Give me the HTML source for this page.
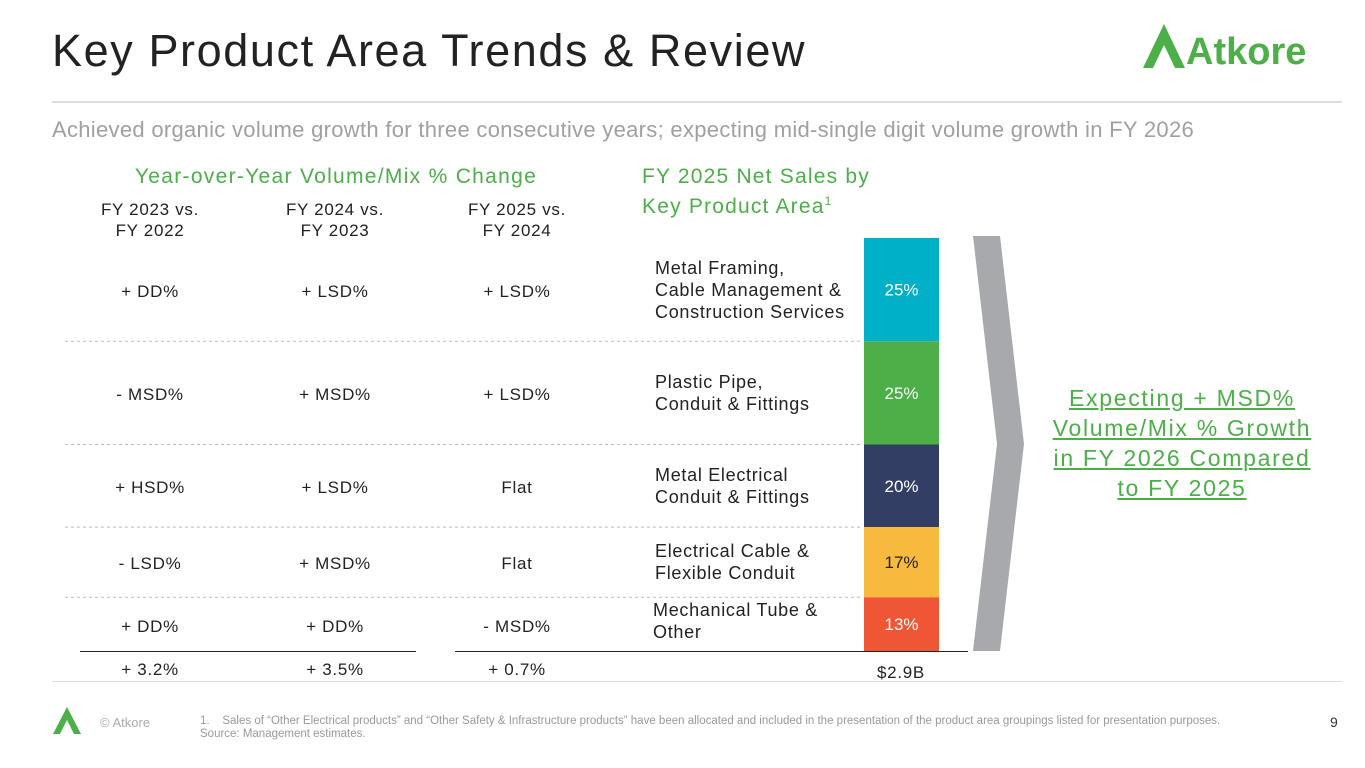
<!DOCTYPE html>
<html><head><meta charset="utf-8"><style>
body{margin:0;width:1365px;height:768px;background:#fff;position:relative;overflow:hidden;font-family:"Liberation Sans",sans-serif;}
.a{position:absolute;white-space:nowrap;}
.c{text-align:center;transform:translateX(-50%);}
.t{font-size:17px;letter-spacing:0.7px;color:#222;}
.lbl{font-size:18px;letter-spacing:0.7px;color:#222;line-height:22px;}
</style></head><body>
<div class="a" style="left:52px;top:25px;font-size:45px;letter-spacing:1.6px;color:#222;">Key Product Area Trends &amp; Review</div>
<svg class="a" style="left:1140px;top:22px" width="190" height="50">
<polygon points="3,46 24,2 45,46 35,46 24,23 13,46" fill="#4caf48"/><polygon points="14,46 24,27 33,46" fill="#fff"/>
<text x="46" y="42" font-family="Liberation Sans" font-weight="bold" font-size="38" fill="#4caf48">Atkore</text></svg>
<div class="a" style="left:52px;top:101px;width:1290px;height:2px;background:#ddd"></div>
<div class="a" style="left:52px;top:117px;font-size:22px;letter-spacing:0.3px;color:#a0a0a0;">Achieved organic volume growth for three consecutive years; expecting mid-single digit volume growth in FY 2026</div>
<div class="a c" style="left:336px;top:165px;font-size:21px;letter-spacing:1.3px;color:#4caf48;">Year-over-Year Volume/Mix % Change</div>
<div class="a" style="left:642px;top:165px;font-size:21px;line-height:24px;letter-spacing:1.2px;color:#4caf48;">FY 2025 Net Sales by<br>Key Product Area<sup style="font-size:12px">1</sup></div>
<div class="a c t" style="left:150px;top:199px;line-height:21px">FY 2023 vs.<br>FY 2022</div>
<div class="a c t" style="left:335px;top:199px;line-height:21px">FY 2024 vs.<br>FY 2023</div>
<div class="a c t" style="left:517px;top:199px;line-height:21px">FY 2025 vs.<br>FY 2024</div>
<div id="rows"></div>
<svg class="a" id="chart" style="left:0;top:0" width="1365" height="768"></svg>
<div class="a" style="left:52px;top:681px;width:1290px;height:1px;background:#ddd"></div>
<svg class="a" style="left:52px;top:706px" width="40" height="30"><polygon points="1,28 15,1 29,28 22,28 15,14 8,28" fill="#4caf48"/></svg>
<div class="a" style="left:100px;top:715px;font-size:13px;color:#aaa">© Atkore</div>
<div class="a" style="left:200px;top:715px;font-size:11.5px;line-height:13px;color:#999">1.&nbsp;&nbsp;&nbsp;&nbsp;Sales of “Other Electrical products” and “Other Safety &amp; Infrastructure products” have been allocated and included in the presentation of the product area groupings listed for presentation purposes.<br>Source: Management estimates.</div>
<div class="a" style="left:1330px;top:714px;font-size:14px;color:#333">9</div>
<div class="a c" style="left:1182px;top:383px;font-size:23px;line-height:30px;letter-spacing:1.7px;color:#4caf48;text-decoration:underline;text-align:center">Expecting + MSD%<br>Volume/Mix % Growth<br>in FY 2026 Compared<br>to FY 2025</div>
<script>
const categories=["Metal Framing,\nCable Management &\nConstruction Services","Plastic Pipe,\nConduit & Fittings","Metal Electrical\nConduit & Fittings","Electrical Cable &\nFlexible Conduit","Mechanical Tube &\nOther"];
const shares=[25,25,20,17,13];
const colors=["#00b0c8","#4caf48","#333e65","#f7b93e","#ee5636"];
const fy23=["+ DD%","- MSD%","+ HSD%","- LSD%","+ DD%"];
const fy24=["+ LSD%","+ MSD%","+ LSD%","+ MSD%","+ DD%"];
const fy25=["+ LSD%","+ LSD%","Flat","Flat","- MSD%"];
const totals=["+ 3.2%","+ 3.5%","+ 0.7%"];
const totalSales="$2.9B";
const NS="http://www.w3.org/2000/svg";
const svg=document.getElementById('chart');
const top0=238,bot=651,bx=864,bw=75;
const sum=shares.reduce((a,b)=>a+b,0);
const yS=v=>v/sum*(bot-top0);
function txt(x,y,s,attrs){const t=document.createElementNS(NS,'text');t.setAttribute('x',x);t.setAttribute('y',y);for(const k in attrs)t.setAttribute(k,attrs[k]);t.textContent=s;svg.appendChild(t);return t;}
let y=top0;const rows=document.getElementById('rows');
shares.forEach((v,i)=>{
 const h=yS(v);
 const r=document.createElementNS(NS,'rect');
 r.setAttribute('x',bx);r.setAttribute('y',y);r.setAttribute('width',bw);r.setAttribute('height',h);r.setAttribute('fill',colors[i]);
 
 
 svg.appendChild(r);
 const mid=y+h/2;
 const lt=txt(bx+bw/2,mid+6,v+'%',{'text-anchor':'middle','font-size':'17','font-family':'Liberation Sans','fill':i==3?'#222':'#fff'});
 
 
 const ry=i==4?mid+3:mid+2;
 [[150,fy23],[335,fy24],[517,fy25]].forEach(([cx,arr],j)=>{
  const d=document.createElement('div');d.className='a c t';d.style.left=cx+'px';d.style.top=(ry-10)+'px';d.textContent=arr[i];
  
  
  rows.appendChild(d);
 });
 const lines=categories[i].split('\n');
 const lb=document.createElement('div');lb.className='a lbl';lb.style.left=(i==4?653:655)+'px';lb.style.top=(mid-lines.length*22/2-(i==4?3:0))+'px';lb.innerHTML=lines.join('<br>').replace(/&(?!amp)/g,'&amp;');
 
 
 rows.appendChild(lb);
 y+=h;
 if(i<shares.length-1){const l=document.createElementNS(NS,'line');l.setAttribute('x1',65);l.setAttribute('x2',862);l.setAttribute('y1',y);l.setAttribute('y2',y);l.setAttribute('stroke','#bbb');l.setAttribute('stroke-dasharray','3,3');
  
  
  svg.appendChild(l);}
});
[[80,416],[455,835],[835,968]].forEach(([a,b])=>{const l=document.createElementNS(NS,'line');l.setAttribute('x1',a);l.setAttribute('x2',b);l.setAttribute('y1',651.5);l.setAttribute('y2',651.5);l.setAttribute('stroke','#222');
 
 
 svg.appendChild(l);});
[150,335,517].forEach((cx,j)=>{const d=document.createElement('div');d.className='a c t';d.style.left=cx+'px';d.style.top='660px';d.textContent=totals[j];
 
 
 rows.appendChild(d);});
const ts=document.createElement('div');ts.className='a c t';ts.style.left='901px';ts.style.top='663px';ts.textContent=totalSales;


rows.appendChild(ts);
const p=document.createElementNS(NS,'polygon');p.setAttribute('points','973,236 1000,236 1024,444 1000,651 973,651 997,444');p.setAttribute('fill','#a7a9ac');


svg.appendChild(p);
</script>
</body></html>
